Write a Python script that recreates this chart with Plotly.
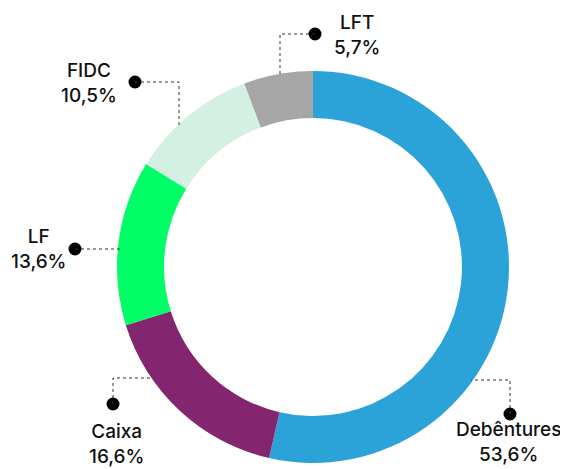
import math
import plotly.graph_objects as go

# ---- data ----
categories = ["Debêntures", "Caixa", "LF", "FIDC", "LFT"]
values = [53.6, 16.6, 13.6, 10.5, 5.7]
value_labels = ["53,6%", "16,6%", "13,6%", "10,5%", "5,7%"]
colors = ["#2CA3D8", "#84266F", "#00FF66", "#D4F0E2", "#A6A6A6"]

# ---- layout / style ----
W, H = 568, 469
OFF = 8                      # page body margin offset
CX, CY, R = 313 - OFF, 267 - OFF, 196   # pie centre and outer radius in pixels
HOLE = 0.76

# label styling: dot position, elbow point, text anchor point (window px)
leaders = {
    "LFT":        dict(dot=(315, 34),  elbow=(280, 34),  mode="v", text=(357, 35), ya="middle"),
    "FIDC":       dict(dot=(135, 82),  elbow=(179, 82),  mode="v", text=(89, 83), ya="middle"),
    "LF":         dict(dot=(75, 249),  elbow=(75, 249),  mode="h", text=(38, 249), ya="middle"),
    "Caixa":      dict(dot=(113, 404), elbow=(113, 378), mode="h", text=(116, 444), ya="middle"),
    "Debêntures": dict(dot=(510, 414), elbow=(510, 380), mode="h", text=(508, 468), ya="bottom"),
}

fig = go.Figure()
fig.add_trace(go.Pie(
    labels=categories, values=values, sort=False, direction="clockwise",
    rotation=0, hole=HOLE, textinfo="none", hoverinfo="label+percent",
    marker=dict(colors=colors, line=dict(width=0)),
    domain=dict(x=[(CX - R) / W, (CX + R) / W],
                y=[1 - (CY + R) / H, 1 - (CY - R) / H]),
    showlegend=False,
))

FONT = dict(family="Inter", size=19, color="#111111", weight=500)

dot_x, dot_y = [], []
shapes = []
annotations = []
for cat, lab in zip(categories, value_labels):
    L = leaders[cat]
    ex, ey = L["elbow"][0] - OFF, L["elbow"][1] - OFF
    dxp, dyp = L["dot"][0] - OFF, L["dot"][1] - OFF
    if L["mode"] == "v":
        dx = ex - CX
        s = math.sqrt(R * R - dx * dx)
        end = (ex, CY - s + 2) if ey < CY else (ex, CY + s - 2)
    else:
        dy = ey - CY
        s = math.sqrt(R * R - dy * dy)
        end = (CX - s + 2, ey) if ex < CX else (CX + s - 2, ey)
    path = f"M{dxp},{dyp} L{ex},{ey} L{end[0]},{end[1]}"
    shapes.append(dict(type="path", path=path, xref="x", yref="y",
                       line=dict(color="#333333", width=1, dash="dot"), layer="above"))
    dot_x.append(dxp)
    dot_y.append(dyp)
    tx, ty = L["text"][0] - OFF, L["text"][1] - OFF
    annotations.append(dict(x=tx, y=ty, xref="x", yref="y", text=f"{cat}<br>{lab}",
                            showarrow=False, align="center",
                            xanchor="center", yanchor=L["ya"], font=FONT))

fig.add_trace(go.Scatter(x=dot_x, y=dot_y, mode="markers", hoverinfo="skip",
                         marker=dict(size=13, color="#000000"), showlegend=False,
                         cliponaxis=False))

fig.update_layout(
    width=W, height=H, margin=dict(l=0, r=0, t=0, b=0),
    paper_bgcolor="white", plot_bgcolor="rgba(0,0,0,0)",
    xaxis=dict(range=[0, W], visible=False, fixedrange=True),
    yaxis=dict(range=[H, 0], visible=False, fixedrange=True),
    shapes=shapes, annotations=annotations,
)

fig.write_html("out.html")
